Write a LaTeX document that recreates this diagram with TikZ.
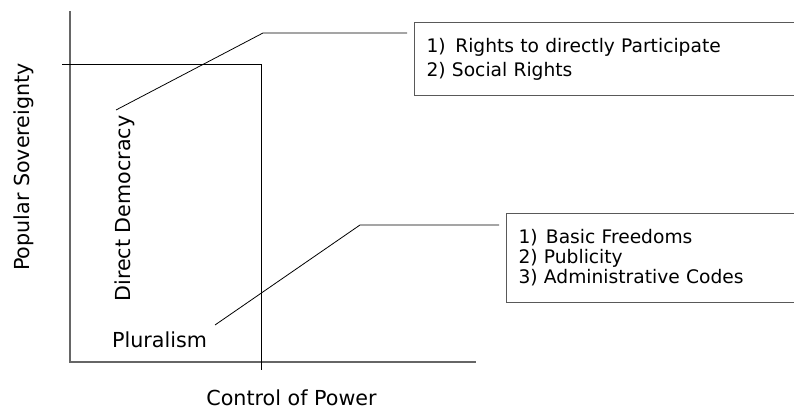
\documentclass[tikz,border=0pt]{standalone}
\usepackage{fontspec}
\setmainfont{DejaVu Sans}

\tikzset{
  axisline/.style={draw=black!60, line width=1pt},
  guideline/.style={draw=black, line width=0.6pt},
  leader/.style={draw=black, line width=0.6pt, shorten >=5.25pt},
  listbox/.style={draw=black!65, line width=0.9pt, anchor=north west, align=left,
    text width=300pt, inner xsep=9pt, inner ysep=0pt},
  lbl/.style={inner sep=0pt, anchor=base, font=\fontsize{15.5}{18}\selectfont},
}

\begin{document}
\begin{tikzpicture}[x=0.75pt,y=-0.75pt]
\useasboundingbox (0,0) rectangle (794,410);
\clip (0,0) rectangle (794,410);

% axes
\coordinate (o) at (70,362);
\coordinate (ytop) at (70,11);
\coordinate (xend) at (476,362);
\draw[axisline] (ytop) -- (o) -- (xend);

% split lines
\coordinate (hl) at (62,64);
\coordinate (hr) at (261,64);
\coordinate (vb) at (261,370);
\draw[guideline] (hl) -- (hr) -- (vb);

\node[lbl, rotate=90] (sov) at (30,167) {Popular Sovereignty};
\node[lbl] (ctrl) at (291.5,405) {Control of Power};
\node[lbl, rotate=90] (ddem) at (130,208.5) {Direct Democracy};
\node[lbl] (plur) at (159.5,347) {Pluralism};

\node[listbox, minimum height=54.75pt, font=\fontsize{14}{18}\selectfont] (rights) at (414,22)
  {1)\hspace{2.5pt} Rights to directly Participate\\2) Social Rights};
\node[listbox, minimum height=66.75pt, font=\fontsize{14}{15}\selectfont] (freedoms) at (506,213)
  {1)\hspace{1.5pt} Basic Freedoms\\2) Publicity\\3) Administrative Codes};

% leaders
\coordinate (ddtip) at (116,110);
\coordinate (ddbend) at (263,33);
\draw[leader] (ddtip) -- (ddbend) -- (ddbend -| rights.west);

\coordinate (pltip) at (215,325);
\coordinate (plbend) at (360,225);
\draw[leader] (pltip) -- (plbend) -- (plbend -| freedoms.west);

\end{tikzpicture}
\end{document}
